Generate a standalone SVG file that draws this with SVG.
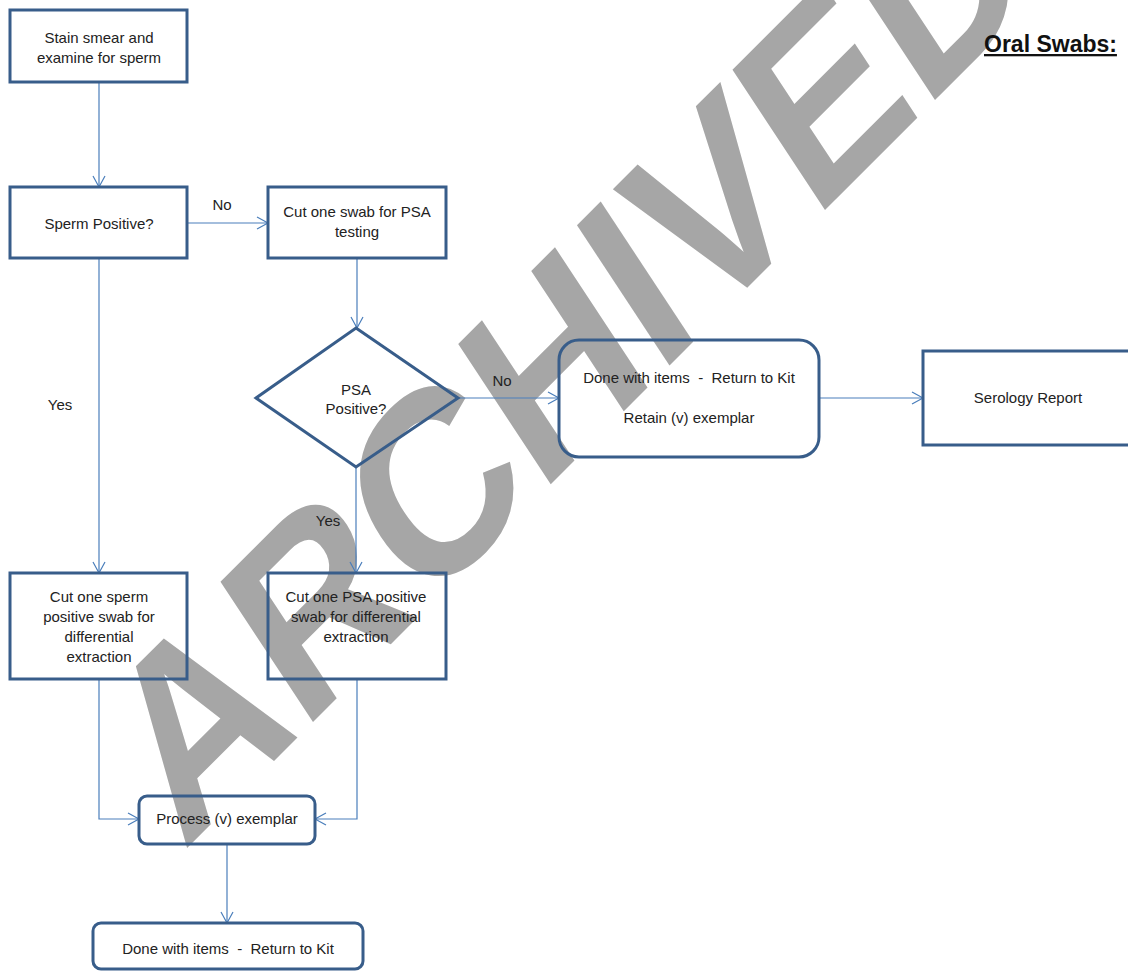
<svg xmlns="http://www.w3.org/2000/svg" width="1128" height="971" viewBox="0 0 1128 971">
<style>
.box{fill:none;stroke:#385d8a;stroke-width:3}
.t{font-family:"Liberation Sans",Arial,sans-serif;font-size:15px;fill:#222;text-anchor:middle}
.c{fill:none;stroke:#4a7ebb;stroke-width:1.2}
.wm{font-family:"Liberation Sans",Arial,sans-serif;font-weight:bold;font-size:240px;fill:#a6a6a6}
.title{font-family:"Liberation Sans",Arial,sans-serif;font-weight:bold;font-size:23px;fill:#111;text-decoration:underline}
</style>
<defs>
<marker id="arr" markerUnits="userSpaceOnUse" markerWidth="14" markerHeight="14" refX="12" refY="7" orient="auto" viewBox="0 0 14 14">
<path d="M1,1 L12,7 L1,13" fill="none" stroke="#4a7ebb" stroke-width="1.2"/>
</marker>
</defs>
<rect x="0" y="0" width="1128" height="971" fill="#fff"/>
<text class="wm" x="0" y="0" transform="matrix(0.686,-0.686,0.56,0.85,183,852)">ARCHIVED</text>
<text class="title" x="984" y="52">Oral Swabs:</text>
<g id="connectors">
<path class="c" d="M99,82 V187" marker-end="url(#arr)"/>
<path class="c" d="M187,223 H268" marker-end="url(#arr)"/>
<path class="c" d="M357,258 V328" marker-end="url(#arr)"/>
<path class="c" d="M458,398 H559" marker-end="url(#arr)"/>
<path class="c" d="M819,398 H923" marker-end="url(#arr)"/>
<path class="c" d="M99,258 V573" marker-end="url(#arr)"/>
<path class="c" d="M356,467 V573" marker-end="url(#arr)"/>
<path class="c" d="M99,679 V819 H139" marker-end="url(#arr)"/>
<path class="c" d="M357,679 V819 H315" marker-end="url(#arr)"/>
<path class="c" d="M227,844 V923" marker-end="url(#arr)"/>
<text class="t" x="222" y="210">No</text>
<text class="t" x="502" y="386">No</text>
<text class="t" x="60" y="410">Yes</text>
<text class="t" x="328" y="526">Yes</text>
</g>
<g id="stain">
<rect class="box" x="10" y="10" width="177" height="72"/>
<text class="t" x="99" y="43">Stain smear and</text>
<text class="t" x="99" y="62.5">examine for sperm</text>
</g>
<g id="sperm-positive">
<rect class="box" x="10" y="187" width="177" height="71"/>
<text class="t" x="99" y="229">Sperm Positive?</text>
</g>
<g id="cut-psa">
<rect class="box" x="268" y="187" width="178" height="71"/>
<text class="t" x="357" y="217">Cut one swab for PSA</text>
<text class="t" x="357" y="237">testing</text>
</g>
<g id="psa-positive">
<polygon class="box" points="356,328 458,398 356,467 256,398"/>
<text class="t" x="356" y="395">PSA</text>
<text class="t" x="356" y="414">Positive?</text>
</g>
<g id="done-retain">
<rect class="box" x="559" y="340" width="260" height="117" rx="20" ry="20"/>
<text class="t" x="689" y="383" xml:space="preserve">Done with items  -  Return to Kit</text>
<text class="t" x="689" y="423">Retain (v) exemplar</text>
</g>
<g id="serology">
<rect class="box" x="923" y="351" width="220" height="94"/>
<text class="t" x="1028" y="403">Serology Report</text>
</g>
<g id="cut-sperm-diff">
<rect class="box" x="10" y="573" width="177" height="106"/>
<text class="t" x="99" y="602">Cut one sperm</text>
<text class="t" x="99" y="622">positive swab for</text>
<text class="t" x="99" y="642">differential</text>
<text class="t" x="99" y="662">extraction</text>
</g>
<g id="cut-psa-diff">
<rect class="box" x="268" y="573" width="178" height="106"/>
<text class="t" x="356" y="602">Cut one PSA positive</text>
<text class="t" x="356" y="622">swab for differential</text>
<text class="t" x="356" y="642">extraction</text>
</g>
<g id="process">
<rect class="box" x="139" y="796" width="176" height="48" rx="8" ry="8"/>
<text class="t" x="227" y="824">Process (v) exemplar</text>
</g>
<g id="done">
<rect class="box" x="93" y="923" width="270" height="46" rx="8" ry="8"/>
<text class="t" x="228" y="954" xml:space="preserve">Done with items  -  Return to Kit</text>
</g>
</svg>
